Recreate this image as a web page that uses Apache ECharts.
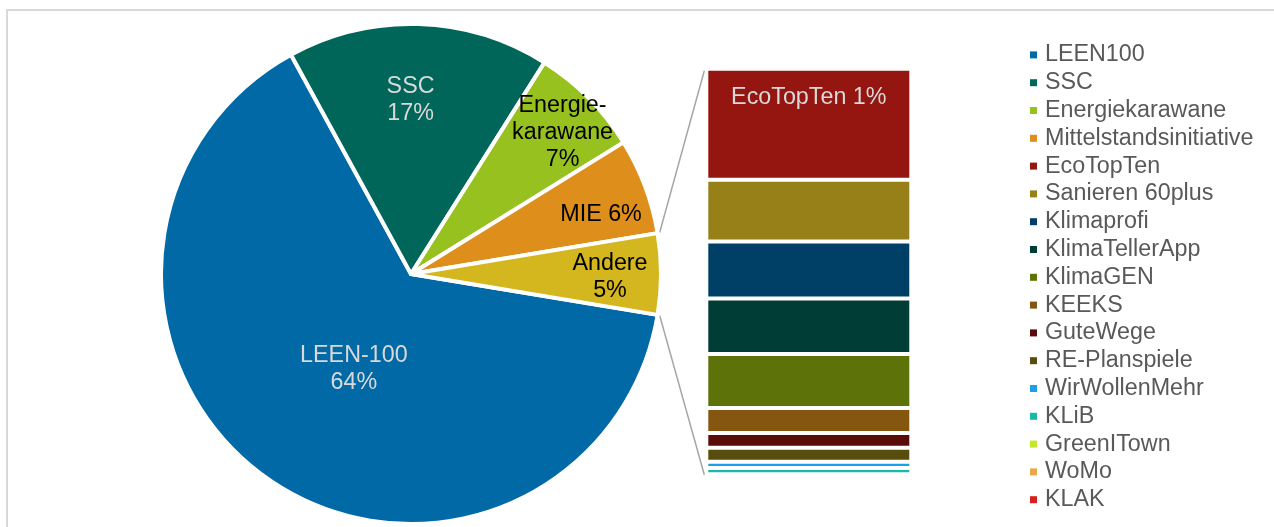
<!DOCTYPE html>
<html><head><meta charset="utf-8">
<script src="https://cdn.jsdelivr.net/npm/echarts@6/dist/echarts.min.js"></script>
<style>html,body{margin:0;padding:0;background:#fff}#c{width:1274px;height:527px}</style>
</head><body><div id="c"></div>
<script>
// ---- data ----
const pieNames = ['LEEN100', 'SSC', 'Energiekarawane', 'Mittelstandsinitiative'];
const pieValues = [64.3, 16.9, 7.2, 6.2];
const otherName = 'Andere';
const pieLabels = ['LEEN-100\n', 'SSC\n', 'Energie-\nkarawane\n', 'MIE ', 'Andere\n'];
const barNames = ['EcoTopTen', 'Sanieren 60plus', 'Klimaprofi', 'KlimaTellerApp', 'KlimaGEN', 'KEEKS',
  'GuteWege', 'RE-Planspiele', 'WirWollenMehr', 'KLiB', 'GreenITown', 'WoMo', 'KLAK'];
const barValues = [1.42, 0.79, 0.73, 0.71, 0.69, 0.32, 0.19, 0.18, 0.08, 0.08, 0.01, 0.01, 0.01];
const barLabelShown = ['EcoTopTen'];

// ---- styles ----
const pieColors = ['#0069a6', '#00665a', '#96c11f', '#de8f1b', '#d4b61e'];
const barColors = ['#951511', '#968017', '#004066', '#003d36', '#5d7309', '#84560f',
  '#5a0c09', '#594d0d', '#1aa0e8', '#1ab8a8', '#c2e82a', '#e8a84a', '#d91e1e'];
const pieLabelColors = ['#d9d9d9', '#d9d9d9', '#000', '#000', '#000'];
const pieLabelRadius = [0.466, 0.70, 0.836, 0.80, 0.80]; // fraction of radius
const pieLabelNudge = [[12, -2.5], [-6, 3.5], [1, 8], [0, 12], [-4, 3.5]];
const FONT = "'Liberation Sans', Arial, sans-serif";
const FS = 23.3;
const CX = 411, CY = 274, R = 250;
const GL = 706.3, GT = 68.7, GW = 205, GH = 408;

const otherValue = barValues.reduce((a, b) => a + b, 0);
const allPieNames = pieNames.concat([otherName]);
const allPieValues = pieValues.concat([otherValue]);
const total = allPieValues.reduce((a, b) => a + b, 0);
const otherDeg = otherValue / total * 360;
const startAngle = -otherDeg / 2;

const series = [];
series.push({
  type: 'pie', center: [CX, CY], radius: [0, R], startAngle: startAngle, clockwise: true,
  silent: true, avoidLabelOverlap: false, label: { show: false }, labelLine: { show: false },
  itemStyle: { borderColor: '#fff', borderWidth: 4 },
  data: allPieNames.map((n, i) => ({ name: n, value: allPieValues[i], itemStyle: { color: pieColors[i] } }))
});
// label carrier pies (transparent), one per label, placing text at chosen radius
pieLabelRadius.forEach((f, k) => {
  const outer = R;
  const inner = Math.max(0, 2 * f * R - outer);
  const o = inner === 0 ? 2 * f * R : outer;
  series.push({
    type: 'pie', center: [CX + pieLabelNudge[k][0], CY + pieLabelNudge[k][1]],
    radius: [inner, o], startAngle: startAngle, clockwise: true,
    silent: true, avoidLabelOverlap: false, labelLine: { show: false },
    itemStyle: { color: 'rgba(0,0,0,0)', borderWidth: 0 },
    emphasis: { disabled: true },
    data: allPieNames.map((n, i) => ({
      name: n, value: allPieValues[i],
      label: {
        show: i === k, position: 'inside', color: pieLabelColors[i], fontSize: FS, fontFamily: FONT,
        lineHeight: 27, align: 'center',
        formatter: () => pieLabels[i] + Math.round(allPieValues[i] / total * 100) + '%'
      }
    }))
  });
});
barNames.forEach((n, i) => {
  series.push({
    type: 'bar', name: n, stack: 'other', xAxisIndex: 0, yAxisIndex: 0,
    barWidth: '100%', silent: true,
    itemStyle: { color: barColors[i], borderColor: '#fff', borderWidth: 2 },
    label: {
      show: barLabelShown.indexOf(n) >= 0, position: 'insideTop', distance: 17,
      color: '#d9d9d9', fontSize: FS, fontFamily: FONT,
      formatter: () => n + ' ' + Math.round(barValues[i] / total * 100) + '%'
    },
    data: [barValues[i]]
  });
});

function pt(degFromTop, rr) {
  const a = degFromTop * Math.PI / 180;
  return [CX + rr * Math.sin(a), CY - rr * Math.cos(a)];
}
const p1 = pt(90 - otherDeg / 2, R + 2);
const p2 = pt(90 + otherDeg / 2, R + 2);

const chart = echarts.init(document.getElementById('c'), null, { renderer: 'canvas' });
chart.setOption({
  animation: false,
  backgroundColor: '#fff',
  color: pieColors.concat(barColors),
  grid: { left: GL, top: GT, width: GW, height: GH, containLabel: false },
  xAxis: { type: 'category', data: [''], show: false },
  yAxis: { type: 'value', min: 0, max: otherValue, inverse: true, show: false },
  legend: {
    orient: 'vertical', left: 1030, top: 41, padding: 0, itemGap: 0,
    itemWidth: 7, itemHeight: 7, icon: 'rect', selectedMode: false,
    itemStyle: { borderWidth: 0 },
    data: pieNames.concat(barNames),
    textStyle: { fontSize: FS, fontFamily: FONT, color: '#595959', lineHeight: 27.8, padding: [0, 0, 0, 3] }
  },
  graphic: [
    { type: 'rect', silent: true, z: -1, shape: { x: 7, y: 10, width: 1280, height: 530 },
      style: { fill: 'none', stroke: '#d9d9d9', lineWidth: 2 } },
    { type: 'line', silent: true, shape: { x1: p1[0], y1: p1[1], x2: GL - 2, y2: GT + 2 },
      style: { stroke: '#a6a6a6', lineWidth: 1.5 } },
    { type: 'line', silent: true, shape: { x1: p2[0], y1: p2[1], x2: GL - 2, y2: GT + GH - 2 },
      style: { stroke: '#a6a6a6', lineWidth: 1.5 } }
  ],
  series: series
});
</script>
</body></html>
